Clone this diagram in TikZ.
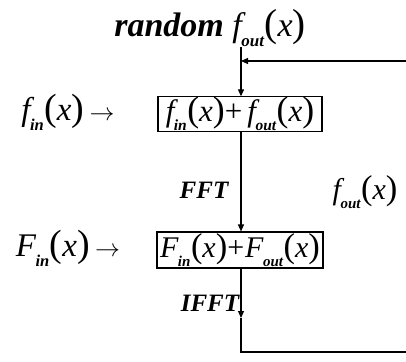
\documentclass[tikz,border=0pt]{standalone}
\usepackage{fontspec}
\setmainfont{Liberation Serif}
\usetikzlibrary{arrows.meta,positioning}

% f_{sub}(x) in equation-editor style
\newcommand{\fsub}[2]{{\itshape #1}\kern-0.5pt\raisebox{-0.3em}{\fontsize{0.5em}{0.55em}\selectfont\bfseries\itshape #2}\kern0.5pt{\fontsize{1.15em}{1.2em}\selectfont(}{\itshape x}{\fontsize{1.15em}{1.2em}\selectfont)}}

\begin{document}
\begin{tikzpicture}[
    x=1pt, y=-1pt,
    every node/.style={inner sep=0pt},
    sumbox/.style={draw,line width=1.1pt,minimum height=34,align=center},
    lbl/.style={font=\fontsize{25}{27}\selectfont\bfseries\itshape},
    flow/.style={-{Triangle[length=7pt,width=6pt]},line width=1.1pt},
    fline/.style={line width=1.1pt}
]
\useasboundingbox (0,0) rectangle (406,361);

% inputs and title
\node[font=\fontsize{34}{36}\selectfont] (rnd) at (210,28) {{\bfseries\itshape random} \fsub{f}{out}};
\node[font=\fontsize{33}{35}\selectfont] (fin) at (68,112) {\fsub{f}{in}\,$\rightarrow$};
\node[font=\fontsize{33}{35}\selectfont] (Fin) at (68,248) {\fsub{F}{in}\,$\rightarrow$};

% sum boxes
\node[sumbox,minimum width=164,font=\fontsize{31}{33}\selectfont] (sum1) at (240,114) {\fsub{f}{in}+\,\fsub{f}{out}};
\node[sumbox,minimum width=166,minimum height=36,font=\fontsize{30}{32}\selectfont] (sum2) at (240,250) {\fsub{F}{in}+\kern1pt\fsub{F}{out}};

% labels
\node[lbl] (fft) at (204,190) {FFT};
\node[lbl] (ifft) at (210,303) {IFFT};
\node[font=\fontsize{30}{32}\selectfont] (fout) at (365,192) {\fsub{f}{out}};

% connectors
\coordinate (top) at (241,47);
\coordinate (join) at (241,61);
\coordinate (fbin) at (406,61);
\coordinate (mid) at (241,318);
\coordinate (bend) at (241,352);
\coordinate (fbout) at (406,352);

\draw[flow] (top) -- (sum1.north -| top);
\draw[flow] (fbin) -- (join);
\draw[flow] (sum1.south -| top) -- (sum2.north -| top);
\draw[flow] (sum2.south -| top) -- (mid);
\draw[fline] (mid) -- (bend) -- (fbout);

\end{tikzpicture}
\end{document}
